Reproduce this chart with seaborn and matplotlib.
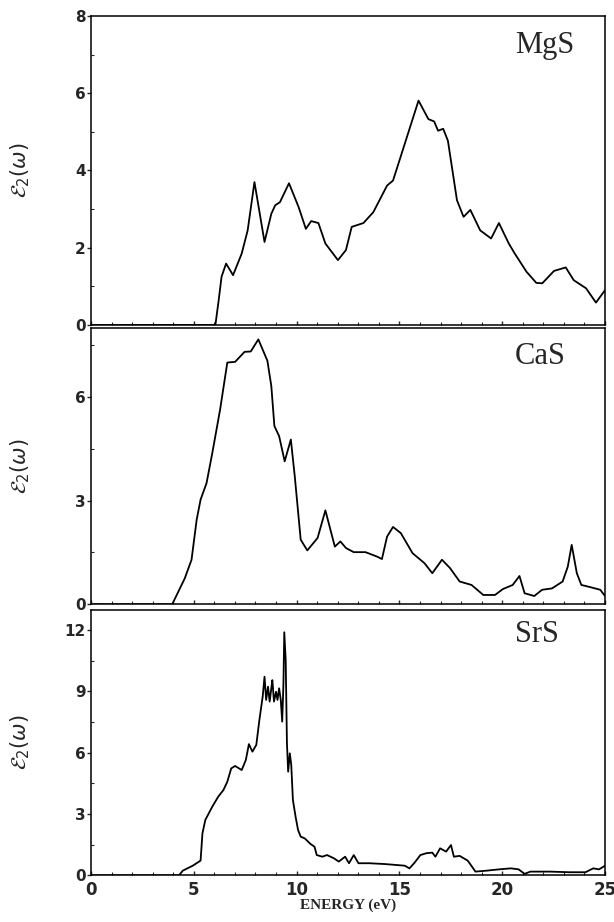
import matplotlib
matplotlib.use("Agg")
import matplotlib.pyplot as plt
import seaborn as sns
import pandas as pd
from matplotlib.ticker import MultipleLocator

# ---- data ----
mgs_e = [0, 6.05, 6.2, 6.35, 6.57, 6.91, 7.33, 7.62, 7.95, 8.44, 8.77, 8.96, 9.19, 9.63, 10.10, 10.45,
         10.71, 11.06, 11.40, 12.01, 12.40, 12.68, 13.25, 13.73, 14.40, 14.69, 15.26, 15.93,
         16.41, 16.69, 16.88, 17.13, 17.36, 17.80, 18.12, 18.45, 18.93, 19.46, 19.84, 20.32,
         20.61, 21.18, 21.66, 21.95, 22.52, 23.09, 23.48, 24.08, 24.56, 25.0]
mgs_v = [0, 0, 0.6, 1.25, 1.59, 1.29, 1.85, 2.45, 3.70, 2.15, 2.88, 3.10, 3.18, 3.67, 3.05, 2.49,
         2.69, 2.64, 2.11, 1.68, 1.94, 2.54, 2.64, 2.92, 3.61, 3.74, 4.69, 5.81,
         5.33, 5.27, 5.03, 5.08, 4.77, 3.23, 2.80, 2.98, 2.45, 2.24, 2.64, 2.11,
         1.85, 1.38, 1.09, 1.08, 1.40, 1.49, 1.16, 0.95, 0.58, 0.90]

cas_e = [0, 3.95, 4.56, 4.89, 5.14, 5.33, 5.62, 5.90, 6.28, 6.63, 7.01, 7.47, 7.77, 8.14,
         8.58, 8.77, 8.92, 9.15, 9.42, 9.72, 9.91, 10.20, 10.52, 11.02, 11.40, 11.86, 12.13,
         12.40, 12.78, 13.35, 13.92, 14.15, 14.40, 14.69, 15.07, 15.64, 16.22, 16.60, 17.07,
         17.46, 17.93, 18.51, 19.08, 19.65, 20.03, 20.51, 20.84, 21.09, 21.56, 21.94, 22.42,
         22.94, 23.19, 23.38, 23.63, 23.85, 24.33, 24.77, 25.0]
cas_v = [0, 0, 0.75, 1.29, 2.45, 3.03, 3.51, 4.38, 5.64, 7.00, 7.02, 7.31, 7.32, 7.67,
         7.05, 6.32, 5.16, 4.87, 4.14, 4.77, 3.71, 1.87, 1.56, 1.92, 2.72, 1.67, 1.82,
         1.63, 1.51, 1.51, 1.38, 1.31, 1.96, 2.24, 2.06, 1.48, 1.19, 0.90, 1.29,
         1.05, 0.66, 0.56, 0.27, 0.27, 0.44, 0.56, 0.82, 0.32, 0.24, 0.42, 0.46,
         0.66, 1.09, 1.72, 0.90, 0.56, 0.49, 0.42, 0.24]

srs_e = [0, 4.28, 4.47, 4.95, 5.33, 5.42, 5.56, 5.90, 6.19, 6.44, 6.63, 6.82, 7.01, 7.33,
         7.53, 7.68, 7.85, 8.04, 8.19, 8.35, 8.44, 8.52, 8.61, 8.69, 8.77, 8.82, 8.90, 9.00,
         9.07, 9.15, 9.23, 9.30, 9.36, 9.40, 9.47, 9.53, 9.59, 9.67, 9.74, 9.82, 9.95, 10.07,
         10.20, 10.39, 10.68, 10.87, 10.98, 11.25, 11.48, 11.82, 12.05, 12.36, 12.55, 12.78,
         13.01, 13.54, 14.30, 15.26, 15.49, 15.74, 16.02, 16.31, 16.60, 16.75, 16.98, 17.27,
         17.51, 17.65, 17.93, 18.32, 18.47, 18.70, 19.27, 19.84, 20.42, 20.80, 21.09, 21.37,
         22.33, 23.28, 24.05, 24.43, 24.71, 25.0]
srs_v = [0, 0, 0.23, 0.47, 0.72, 2.05, 2.71, 3.36, 3.85, 4.17, 4.58, 5.23, 5.35, 5.15,
         5.64, 6.42, 6.05, 6.38, 7.60, 8.74, 9.72, 8.58, 9.23, 8.50, 9.15, 9.55, 8.50, 8.98,
         8.58, 9.15, 8.58, 7.52, 9.39, 11.89, 10.53, 6.46, 5.07, 5.97, 5.40, 3.69, 2.87, 2.22,
         1.89, 1.81, 1.53, 1.40, 0.99, 0.91, 0.99, 0.83, 0.67, 0.91, 0.59, 0.99,
         0.59, 0.59, 0.55, 0.47, 0.34, 0.62, 0.99, 1.08, 1.11, 0.91, 1.32, 1.16,
         1.48, 0.91, 0.95, 0.72, 0.51, 0.18, 0.23, 0.29, 0.34, 0.29, 0.07, 0.18,
         0.18, 0.15, 0.15, 0.34, 0.29, 0.47]

labels = ["MgS", "CaS", "SrS"]
x_ticks = [0, 5, 10, 15, 20, 25]
y_ticks = [[0, 2, 4, 6, 8], [0, 3, 6], [0, 3, 6, 9, 12]]
y_lims = [(0, 8), (0, 8), (0, 13)]

sns.set_style("ticks")
plt.rcParams["font.family"] = ["DejaVu Sans"]

W, H = 614, 922
fig = plt.figure(figsize=(W / 100, H / 100), dpi=100)

# pixel boxes: (top, bottom)
boxes = [(16, 325), (328, 604.3), (609.6, 875.3)]
left_px, right_px = 91, 605
label_y = [0.952, 0.95, 0.962]

datasets = [(mgs_e, mgs_v), (cas_e, cas_v), (srs_e, srs_v)]
for i, ((e, v), (t, b)) in enumerate(zip(datasets, boxes)):
    ax = fig.add_axes([left_px / W, 1 - b / H, (right_px - left_px) / W, (b - t) / H])
    df = pd.DataFrame({"E": e, "eps": v})
    sns.lineplot(data=df, x="E", y="eps", ax=ax, color="black", linewidth=1.3,
                 estimator=None, sort=False)
    ax.set_xlim(0, 25)
    ax.set_ylim(*y_lims[i])
    ax.set_yticks(y_ticks[i])
    ax.yaxis.set_minor_locator(MultipleLocator(1 if i == 0 else 1.5))
    ax.set_xticks(x_ticks)
    ax.xaxis.set_minor_locator(MultipleLocator(1))
    for sp in ax.spines.values():
        sp.set_visible(True)
        sp.set_linewidth(1.1)
        sp.set_color("black")
    ax.tick_params(axis="both", which="major", direction="out", length=3, width=1,
                   labelsize=11, pad=1)
    ax.tick_params(axis="both", which="minor", direction="in", length=2, width=0.8)
    ax.tick_params(axis="x", which="both", direction="in")
    for lab in ax.get_yticklabels():
        lab.set_fontweight("bold")
    if i < 2:
        ax.set_xticklabels([])
        ax.set_xlabel("")
    else:
        for lab in ax.get_xticklabels():
            lab.set_fontweight("bold")
        ax.tick_params(axis="x", labelsize=12, pad=4)
        ax.set_xlabel("ENERGY (eV)", fontfamily="Liberation Serif", fontweight="bold",
                      fontsize=11, labelpad=0)
    ax.set_ylabel(r"$\mathcal{E}_2(\omega)$", fontsize=15)
    ax.yaxis.set_label_coords((32 - left_px) / (right_px - left_px), 0.5)
    ax.text((515 - left_px) / (right_px - left_px), label_y[i], labels[i],
            transform=ax.transAxes, ha="left", va="top",
            fontfamily="Liberation Serif", fontsize=22)

fig.savefig("out.png", dpi=100, facecolor="white")
